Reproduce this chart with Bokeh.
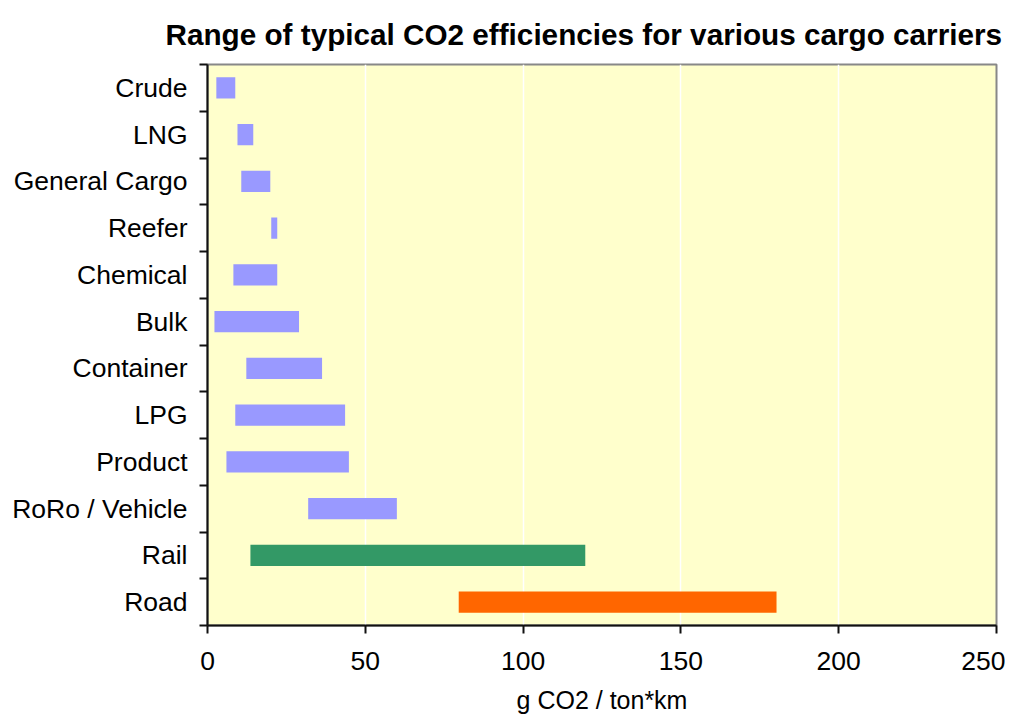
from bokeh.plotting import figure
from bokeh.models import Range1d, FixedTicker, ColumnDataSource
from bokeh.embed import file_html
from bokeh.resources import INLINE

title_text = "Range of typical CO2 efficiencies for various cargo carriers"
categories = ["Crude", "LNG", "General Cargo", "Reefer", "Chemical", "Bulk",
              "Container", "LPG", "Product", "RoRo / Vehicle", "Rail", "Road"]
low = [2.8, 9.5, 10.7, 20.2, 8.2, 2.2, 12.3, 8.8, 6.0, 31.9, 13.6, 79.6]
high = [8.8, 14.5, 19.9, 22.1, 22.1, 29.0, 36.3, 43.6, 44.8, 60.0, 119.7, 180.3]
colors = ["#9999FF"] * 10 + ["#339966", "#FF6600"]
x_ticks = [0, 50, 100, 150, 200, 250]

n = len(categories)
ypos = [n - 0.5 - i for i in range(n)]
src = ColumnDataSource(dict(y=ypos, left=low, right=high, color=colors, name=categories))

FONT = "Liberation Sans"

p = figure(width=1005, height=717, output_backend="svg", toolbar_location=None,
           x_range=Range1d(0, 250), y_range=Range1d(0, n),
           min_border_left=207, min_border_right=9, min_border_top=64, min_border_bottom=92,
           title=title_text)

p.hbar(y="y", left="left", right="right", height=0.45, color="color", line_color=None, source=src)

p.background_fill_color = "#FFFFCC"
p.border_fill_color = "white"
p.outline_line_color = "#888888"
p.outline_line_width = 2

p.title.text_font = FONT
p.title.text_font_size = "29.7px"
p.title.text_font_style = "bold"
p.title.text_color = "black"
p.title.align = "left"
p.title.offset = -42
p.title.vertical_align = "top"
p.title.standoff = 24

# x axis
p.xaxis.ticker = FixedTicker(ticks=x_ticks)
p.xaxis.axis_label = "g CO2 / ton*km"
p.xaxis.axis_label_text_font = FONT
p.xaxis.axis_label_text_font_size = "25px"
p.xaxis.axis_label_text_font_style = "normal"
p.xaxis.axis_label_text_color = "black"
p.xaxis.axis_label_standoff = 13
p.xaxis.major_label_text_font = FONT
p.xaxis.major_label_text_font_size = "26.5px"
p.xaxis.major_label_text_color = "black"
p.xaxis.major_label_standoff = 18
p.xaxis.major_tick_out = 8
p.xaxis.major_tick_in = 0
p.xaxis.minor_tick_line_color = None
p.xaxis.axis_line_color = "#111111"
p.xaxis.axis_line_width = 2
p.xaxis.major_tick_line_color = "#111111"
p.xaxis.major_tick_line_width = 2

# y axis: labels at row centres, ticks at row boundaries
p.yaxis.ticker = FixedTicker(ticks=ypos, minor_ticks=list(range(n + 1)))
p.yaxis.major_label_overrides = {y: c for y, c in zip(ypos, categories)}
p.yaxis.major_label_text_font = FONT
p.yaxis.major_label_text_font_size = "26.5px"
p.yaxis.major_label_text_color = "black"
p.yaxis.major_label_standoff = 12
p.yaxis.major_tick_out = 0
p.yaxis.major_tick_in = 0
p.yaxis.major_tick_line_color = None
p.yaxis.minor_tick_out = 8
p.yaxis.minor_tick_in = 0
p.yaxis.minor_tick_line_color = "#111111"
p.yaxis.minor_tick_line_width = 2
p.yaxis.axis_line_color = "#111111"
p.yaxis.axis_line_width = 2

p.xgrid.grid_line_color = "white"
p.xgrid.grid_line_width = 1.5
p.ygrid.grid_line_color = None

open("out.html", "w").write(file_html(p, INLINE))
